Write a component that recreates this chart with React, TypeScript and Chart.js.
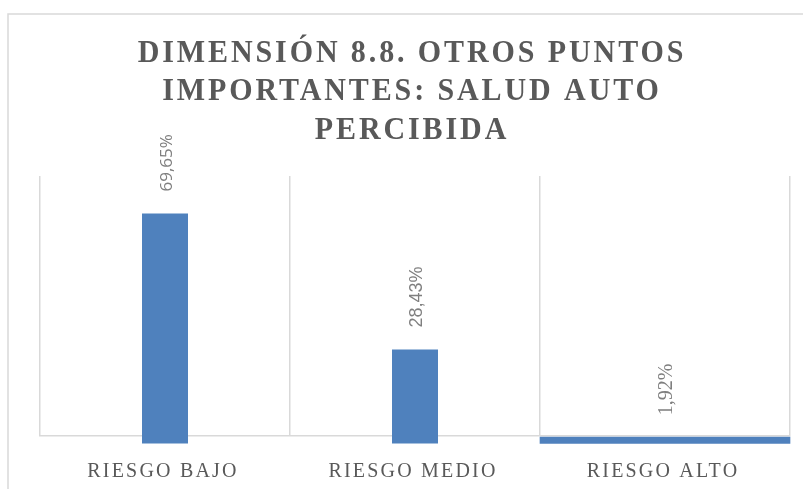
import React, { useEffect, useRef } from 'react';
import { Chart, registerables } from 'chart.js';

Chart.register(...registerables);

const categories = ['RIESGO BAJO', 'RIESGO MEDIO', 'RIESGO ALTO'];
const values = [69.65, 28.43, 1.92];
const valueLabels = ['69,65%', '28,43%', '1,92%'];
const titleLines = ['DIMENSIÓN 8.8. OTROS PUNTOS', 'IMPORTANTES: SALUD AUTO', 'PERCIBIDA'];
const axisMin = 2.27;
const axisMax = 81;

// style-only lists
const wideIndex = [false, false, true];
const labelFonts = ['17px "Open Sans"', '18px "Liberation Sans"', '20px "Liberation Serif"'];

const BLUE = '#4f81bd';
const GRID = '#d9d9d9';
const TEXT = '#595959';

const decorPlugin = {
  id: 'decor',
  beforeDraw(chart: any) {
    const ctx = chart.ctx;
    ctx.save();
    ctx.fillStyle = '#ffffff';
    ctx.fillRect(0, 0, chart.width, chart.height);
    ctx.strokeStyle = GRID;
    ctx.lineWidth = 1.5;
    ctx.strokeRect(8, 14, chart.width + 20, chart.height + 20);
    // title (tall glyphs)
    ctx.fillStyle = TEXT;
    ctx.font = 'bold 30px "Liberation Serif"';
    (ctx as any).letterSpacing = '2.9px';
    ctx.textAlign = 'center';
    ctx.textBaseline = 'alphabetic';
    const baselines = [62, 100, 139];
    titleLines.forEach((t, i) => {
      ctx.save();
      ctx.translate(412, baselines[i]);
      ctx.scale(1, 1.08);
      ctx.fillText(t, 0, 0);
      ctx.restore();
    });
    // category labels
    const xs = chart.scales.x;
    ctx.font = '20px "Liberation Serif"';
    (ctx as any).letterSpacing = '2.2px';
    categories.forEach((c, i) => {
      ctx.fillText(c, xs.getPixelForValue(i) - 2, 477);
    });
    (ctx as any).letterSpacing = '0px';
    ctx.restore();
  },
  afterDraw(chart: any) {
    const ctx = chart.ctx;
    ctx.save();
    ctx.fillStyle = '#7f7f7f';
    ctx.textAlign = 'left';
    ctx.textBaseline = 'middle';
    chart.data.datasets.forEach((ds: any, di: number) => {
      const meta = chart.getDatasetMeta(di);
      meta.data.forEach((el: any, i: number) => {
        if (ds.data[i] == null) return;
        ctx.save();
        ctx.font = labelFonts[i];
        ctx.translate(el.x + 2, el.y - 22);
        ctx.rotate(-Math.PI / 2);
        ctx.fillText(valueLabels[i], 0, 0);
        ctx.restore();
      });
    });
    ctx.restore();
  },
};

export default function App() {
  const ref = useRef<HTMLCanvasElement>(null);
  useEffect(() => {
    document.body.style.margin = '0';
    const narrow = values.map((v, i) => (wideIndex[i] ? null : v));
    const wide = values.map((v, i) => (wideIndex[i] ? v : null));
    const chart = new Chart(ref.current!, {
      type: 'bar',
      data: {
        labels: categories,
        datasets: [
          {
            data: narrow,
            backgroundColor: BLUE,
            barPercentage: 0.184,
            categoryPercentage: 1,
            base: 0,
            clip: false,
          } as any,
          {
            data: wide,
            backgroundColor: BLUE,
            barPercentage: 1,
            categoryPercentage: 1,
            base: 0,
            clip: false,
          } as any,
        ],
      },
      options: {
        responsive: false,
        animation: false,
        layout: { padding: { left: 40, right: 13, top: 176, bottom: 53 } },
        plugins: { legend: { display: false }, tooltip: { enabled: false }, title: { display: false } },
        datasets: { bar: { grouped: false } } as any,
        scales: {
          x: {
            z: 1,
            grid: { offset: true, color: GRID, lineWidth: 1.5, drawTicks: false },
            border: { color: GRID, width: 1.5 },
            ticks: { display: false },
          },
          y: {
            display: false,
            min: axisMin,
            max: axisMax,
          },
        },
      },
      plugins: [decorPlugin],
    });
    return () => chart.destroy();
  }, []);
  return (
    <div style={{ width: 803, height: 489 }}>
      <canvas ref={ref} width={803} height={489} />
    </div>
  );
}
